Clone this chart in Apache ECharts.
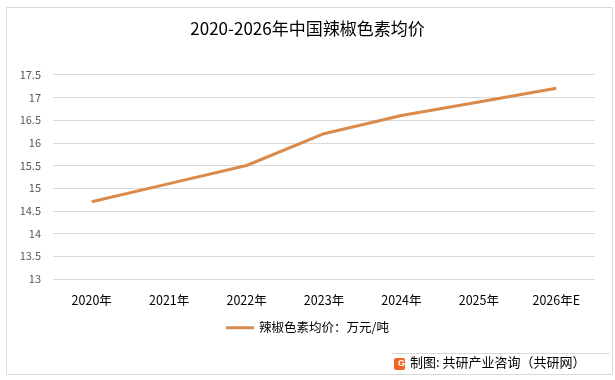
<!DOCTYPE html>
<html><head><meta charset="utf-8">
<script src="https://cdn.jsdelivr.net/npm/echarts@6/dist/echarts.min.js"></script>
<style>html,body{margin:0;padding:0;background:#fff}#c{width:615px;height:380px}</style>
</head><body><div id="c"></div>
<script>
var categories = ['2020年','2021年','2022年','2023年','2024年','2025年','2026年E'];
var values = [14.7, 15.1, 15.5, 16.2, 16.6, 16.9, 17.2];
var seriesName = '辣椒色素均价：万元/吨';
var titleText = '2020-2026年中国辣椒色素均价';
var sourceText = '制图: 共研产业咨询（共研网）';

var chart = echarts.init(document.getElementById('c'));
var font = '"Noto Sans CJK SC", sans-serif';
chart.setOption({
  animation: false,
  title: {text: titleText, left: 'center', top: 15,
    textStyle: {fontFamily: font, fontSize: 17, fontWeight: 'normal', color: '#000'}},
  grid: {left: 53, right: 20, top: 74.7, bottom: 101, containLabel: false},
  legend: {bottom: 41, left: 'center', itemWidth: 28, itemHeight: 3, icon: 'rect',
    textStyle: {fontFamily: font, fontSize: 12.5, color: '#000'}},
  xAxis: {type: 'category', data: categories, boundaryGap: true,
    axisLine: {show: false}, axisTick: {show: false},
    axisLabel: {fontFamily: font, fontSize: 12.5, color: '#000', margin: 15}},
  yAxis: {type: 'value', min: 13, max: 17.5, interval: 0.5,
    axisLine: {show: false}, axisTick: {show: false},
    splitLine: {lineStyle: {color: '#d9d9d9', width: 1}},
    axisLabel: {fontFamily: font, fontSize: 11, color: '#595959', margin: 12}},
  series: [{name: seriesName, type: 'line', data: values, symbol: 'none',
    lineStyle: {color: '#DA8A4A', width: 3}, itemStyle: {color: '#DA8A4A'}}],
  graphic: [
    {type: 'rect', left: 4, top: 5, shape: {width: 606, height: 367}, style: {fill: 'none', stroke: '#d9d9d9', lineWidth: 1}},
    {type: 'line', shape: {x1: 392, y1: 353.5, x2: 610, y2: 353.5}, style: {stroke: '#d9d9d9', lineWidth: 1}},
    {type: 'rect', left: 394, top: 358, shape: {width: 11, height: 12, r: 2}, style: {fill: '#F26522'}},
    {type: 'text', left: 398, top: 359, style: {text: 'G', fill: '#fff', font: 'bold 9px sans-serif'}},
    {type: 'text', left: 410, top: 356, style: {text: sourceText, fill: '#000', font: '13px "Noto Sans CJK SC", sans-serif'}}
  ]
});
</script></body></html>
